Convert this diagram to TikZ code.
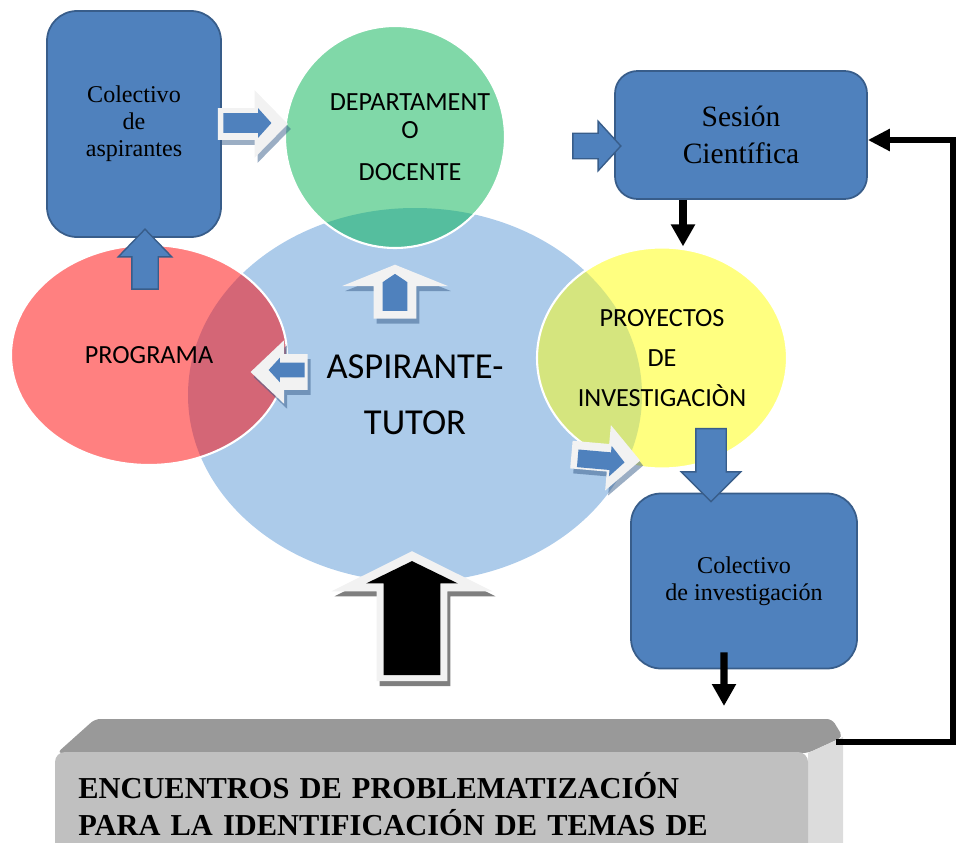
\documentclass[tikz,border=0pt]{standalone}
\usepackage{fontspec}
\setmainfont{Liberation Serif}
\newfontfamily\calibri{Carlito}
\usetikzlibrary{shapes.geometric,shapes.arrows,arrows.meta,backgrounds,shadows}

\definecolor{boxblue}{HTML}{4F81BD}
\definecolor{boxline}{HTML}{385D8A}
\definecolor{tutorblue}{HTML}{ACCBEA}
\definecolor{deptgreen}{HTML}{80D8A8}
\definecolor{deptover}{HTML}{55BE9E}
\definecolor{progred}{HTML}{FF8080}
\definecolor{progover}{HTML}{D46676}
\definecolor{proyyellow}{HTML}{FFFF80}
\definecolor{proyover}{HTML}{D5E57E}
\definecolor{ghostfill}{HTML}{F2F2F2}
\definecolor{slabdark}{HTML}{999999}
\definecolor{slabfront}{HTML}{C0C0C0}
\definecolor{slabside}{HTML}{DCDCDC}

\tikzset{
  bluebox/.style={rectangle, rounded corners=#1, fill=boxblue, draw=boxline, line width=1pt, align=center, inner sep=0pt},
  venn/.style={ellipse, draw=white, line width=1.2pt, inner sep=0pt, align=center},
  adims/.style n args={5}{minimum height=#1cm, minimum width=#2cm, single arrow head extend=#3cm, single arrow tip angle=#4, inner xsep=0pt, inner ysep=#5cm},
  blockarrow/.style={single arrow, fill=boxblue, draw=boxline, line width=0.8pt},
  ghostarrow/.style={single arrow, fill=ghostfill, drop shadow={shadow xshift=0.06cm, shadow yshift=-0.1cm, fill=#1, opacity=0.5}},
  innerarrow/.style={single arrow, fill=#1},
  blackline/.style={line width=4pt, -{Triangle[width=13pt,length=12.5pt]}},
  feedline/.style={line width=3pt, line join=miter, -{Triangle[width=12pt,length=12.5pt]}},
}

\begin{document}
\begin{tikzpicture}
  \useasboundingbox (0,0) rectangle (19.14,-16.86);
  \clip (0,0) rectangle (19.14,-16.86);
  % Venn circles
  \node[venn, draw=none, minimum width=9.08cm, minimum height=7.48cm, font={\calibri\fontsize{20.8}{31.7}\selectfont}] (tutor) at (8.30,-7.90) {ASPIRANTE-\\TUTOR};
  \node[venn, minimum width=5.52cm, minimum height=4.40cm, font={\calibri\fontsize{14.9}{18}\selectfont}] (prog) at (2.98,-7.10) {PROGRAMA};
  \node[venn, minimum width=4.40cm, minimum height=4.44cm] (dept) at (7.90,-2.74) {};
  \node[align=center, inner sep=0pt, font={\calibri\fontsize{14.9}{15.9}\selectfont}] (depttext) at ([xshift=0.3cm]dept.center) {DEPARTAMENT\\O\\[7.9pt]DOCENTE};
  \node[venn, minimum width=5.00cm, minimum height=4.42cm, font={\calibri\fontsize{14.9}{22.7}\selectfont}] (proy) at (13.24,-7.16) {PROYECTOS\\DE\\INVESTIGACIÒN};
  \begin{scope}[on background layer]
    \fill[tutorblue] (tutor.center) ellipse [x radius=4.54cm, y radius=3.74cm];
    \fill[progred] (prog.center) ellipse [x radius=2.76cm, y radius=2.20cm];
    \fill[deptgreen] (dept.center) ellipse [x radius=2.20cm, y radius=2.22cm];
    \fill[proyyellow] (proy.center) ellipse [x radius=2.50cm, y radius=2.21cm];
    % overlaps
    \clip (tutor.center) ellipse [x radius=4.54cm, y radius=3.74cm];
    \fill[progover] (prog.center) ellipse [x radius=2.76cm, y radius=2.20cm];
    \fill[deptover] (dept.center) ellipse [x radius=2.20cm, y radius=2.22cm];
    \fill[proyover] (proy.center) ellipse [x radius=2.50cm, y radius=2.21cm];
  \end{scope}

  % Boxes
  \node[bluebox=0.6cm, minimum width=3.48cm, minimum height=4.52cm, font=\fontsize{13.7}{15.3}\selectfont] (colasp) at (2.68,-2.48) {Colectivo\\de\\aspirantes};
  \node[bluebox=0.45cm, minimum width=5.04cm, minimum height=2.56cm, font=\fontsize{16.8}{21}\selectfont] (sesion) at (14.82,-2.70) {Sesión\\Científica};
  \node[bluebox=0.6cm, minimum width=4.52cm, minimum height=3.50cm, font=\fontsize{13.7}{15.3}\selectfont] (colinv) at (14.88,-11.62) {Colectivo\\de investigación};

  % Block arrows
  \node[blockarrow, adims={1.2}{1.04}{0.27}{88}{0.25}, rotate=90] (upprog) at (2.90,-5.32) {};
  \node[blockarrow, adims={0.96}{0.96}{0.24}{95}{0.24}] (tosesion) at (11.82,-2.92) {};
  \node[blockarrow, adims={1.46}{1.16}{0.29}{90}{0.29}, rotate=-90] (downproy) at (14.22,-9.15) {};
  \node[ghostarrow=boxline, adims={1.4}{1.34}{0.36}{91}{0.31}] (todept) at (4.90,-2.48) {};
  \node[innerarrow=boxblue, adims={0.96}{0.58}{0.10}{96}{0.19}] (todeptin) at (4.86,-2.46) {};
  \node[ghostarrow=boxline, adims={1.08}{2.1}{0.63}{136}{0.42}, rotate=90] (uptutor) at (7.90,-5.92) {};
  \node[innerarrow=boxblue, adims={0.74}{0.48}{0}{112}{0.24}, rotate=90] (uptutorin) at (7.90,-5.93) {};
  \node[ghostarrow=boxline, adims={1.14}{1.26}{0.28}{87}{0.35}, rotate=180] (toprog) at (5.77,-7.44) {};
  \node[innerarrow=boxblue, adims={0.72}{0.48}{0.10}{95}{0.14}, rotate=180] (toprogin) at (5.80,-7.40) {};
  \node[ghostarrow=boxline, adims={1.38}{1.3}{0.38}{91}{0.27}, rotate=-5] (toproy) at (11.98,-9.14) {};
  \node[innerarrow=boxblue, adims={0.94}{0.60}{0.13}{94}{0.17}, rotate=-5] (toproyin) at (11.94,-9.20) {};
  \node[ghostarrow=black, adims={2.6}{3.2}{0.9}{127}{0.7}, rotate=90] (bigup) at (8.24,-12.50) {};
  \node[innerarrow=black, adims={2.28}{1.82}{0.35}{128}{0.56}, rotate=90] (bigupin) at (8.24,-12.50) {};

  % Slab
  \fill[slabdark, rounded corners=3pt] (1.14,-15.06) -- (1.9,-14.38) -- (16.64,-14.38) -- (16.86,-14.74) -- (16.16,-15.06) -- cycle;
  \fill[slabside] (16.16,-15.06) -- (16.86,-14.74) -- (16.86,-17.5) -- (16.16,-17.5) -- cycle;
  \fill[slabfront, rounded corners=0.2cm] (1.1,-15.04) rectangle (16.16,-17.6);
  \node[font=\bfseries\fontsize{17.3}{21.5}\selectfont, align=left, text width=15cm, anchor=base west, inner sep=0pt] (encuentros) at (1.56,-15.96) {ENCUENTROS DE PROBLEMATIZACIÓN\\PARA LA IDENTIFICACIÓN DE TEMAS DE};
  \coordinate (slabtop) at (14.48,-14.38);
  \coordinate (slabright) at (16.72,-14.84);
  \coordinate (corner) at (19.06,-14.84);

  % Black connectors
  \draw[blackline] ([xshift=-1.16cm]sesion.south) -- ([xshift=-1.16cm]sesion.south |- proy.north);
  \draw[blackline, shorten >=0.26cm] ([xshift=-0.4cm,yshift=0.34cm]colinv.south) -- (slabtop);
  \draw[feedline] (slabright) -- (corner) |- ([yshift=-0.1cm]sesion.east);
\end{tikzpicture}
\end{document}
